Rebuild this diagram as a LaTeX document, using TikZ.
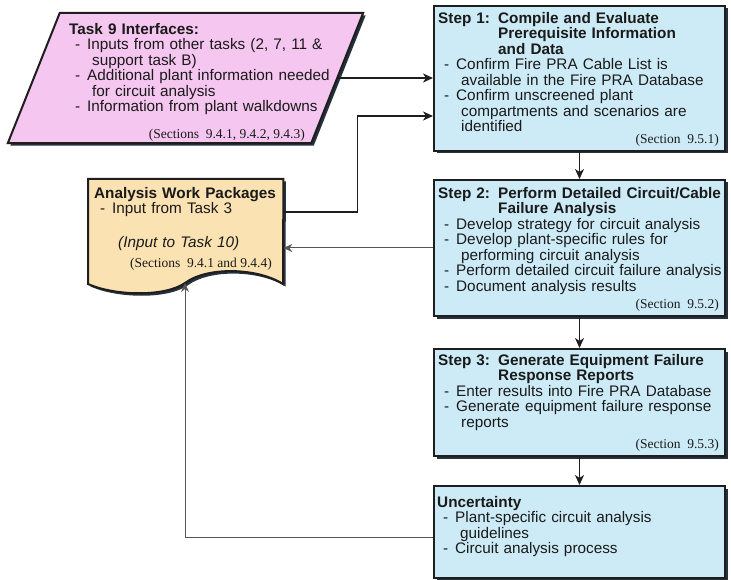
\documentclass[tikz,border=0pt]{standalone}
\usepackage{fontspec}
\setmainfont{Liberation Sans}
\newfontfamily\secfont{Liberation Serif}
\usetikzlibrary{shadows,arrows.meta}
\definecolor{taskpink}{HTML}{F5C6EF}
\definecolor{docbuff}{HTML}{FBE2B2}
\definecolor{stepblue}{HTML}{CDEBF6}
\definecolor{edgedark}{HTML}{1E1E1E}
\definecolor{shadowdark}{HTML}{25323E}
\definecolor{linegray}{HTML}{555555}
\definecolor{inkdark}{HTML}{1A1A1A}
\setlength{\parindent}{0pt}
\hyphenpenalty=10000
\newcommand\nl{\hfil\break}
\newcommand\bul[1]{\par\hangindent=23pt\hangafter=1\hspace*{6pt}\makebox[12pt][l]{-}#1}
\newcommand\stephd[2]{\hangindent=60pt\hangafter=1\makebox[60pt][l]{\textbf{#1}}\textbf{#2}}

\begin{document}
\begin{tikzpicture}[x=1pt,y=-1pt,
  boxshape/.style={draw=edgedark,line width=2pt,
    drop shadow={shadow xshift=2.5pt,shadow yshift=-2.5pt,fill=shadowdark,opacity=1}},
  stepbox/.style={boxshape,fill=stepblue,rectangle,inner sep=0pt,
    minimum width=291pt,anchor=north west},
  txt/.style={anchor=north west,inner sep=0pt,text=inkdark,
    font=\fontsize{15.3}{15.5}\selectfont},
  secref/.style={anchor=south east,inner sep=0pt,text=inkdark,
    font=\secfont\fontsize{13.5}{15}\selectfont},
  conn/.style={draw=edgedark,line width=1.8pt,
    -{Stealth[length=10pt,width=9pt,inset=3pt]}},
  backconn/.style={draw=linegray,line width=1pt,
    -{Stealth[length=9pt,width=8pt,inset=3pt]}}]
\useasboundingbox (0,0) rectangle (731,580);

\node[inner sep=0pt,minimum width=355pt,minimum height=130pt] (task) at (185.5,78) {};
\path[boxshape,fill=taskpink] ([xshift=52pt]task.north west) -- (task.north east)
  -- ([xshift=-52pt]task.south east) -- (task.south west) -- cycle;
\node[txt,text width=285pt] (tasktxt) at (69,23) {\textbf{Task 9 Interfaces:}
  \bul{Inputs from other tasks (2, 7, 11 \&\nl support task B)}
  \bul{Additional plant information needed\nl for circuit analysis}
  \bul{Information from plant walkdowns}\par};
\node[secref] (tasksec) at (305,142) {(Sections\ \ 9.4.1, 9.4.2, 9.4.3)};

\node[inner sep=0pt,minimum width=195pt,minimum height=105pt,anchor=north west] (awp) at (88,179) {};
\path[boxshape,fill=docbuff] (awp.north west) -- (awp.north east) -- (283,284)
  .. controls (258,268) and (208,266) .. (185,283) coordinate (awpdip)
  .. controls (165,297) and (115,296) .. (88,284) -- cycle;
\node[txt,text width=190pt] (awptxt) at (94,187) {\textbf{Analysis Work Packages}
  \bul{Input from Task 3}\par\vspace{18pt}
  \hspace*{24pt}\textit{(Input to Task 10)}\par};
\node[secref] (awpsec) at (272,271) {(Sections\ \ 9.4.1 and 9.4.4)};

\node[stepbox,minimum height=145pt] (s1) at (433,5) {};
\node[txt,text width=290pt] (s1txt) at (438,12) {\stephd{Step 1:}{Compile and Evaluate\nl Prerequisite Information\nl and Data}
  \bul{Confirm Fire PRA Cable List is\nl available in the Fire PRA Database}
  \bul{Confirm unscreened plant\nl compartments and scenarios are\nl identified}\par};
\node[secref] (s1sec) at ([shift={(-7,-5)}]s1.south east) {(Section\ \ 9.5.1)};

\node[stepbox,minimum height=136pt] (s2) at (433,179) {};
\node[txt,text width=290pt] (s2txt) at (438,187) {\stephd{Step 2:}{Perform Detailed Circuit/Cable\nl Failure Analysis}
  \bul{Develop strategy for circuit analysis}
  \bul{Develop plant-specific rules for\nl performing circuit analysis}
  \bul{Perform detailed circuit failure analysis}
  \bul{Document analysis results}\par};
\node[secref] (s2sec) at ([shift={(-7,-5)}]s2.south east) {(Section\ \ 9.5.2)};

\node[stepbox,minimum height=107pt] (s3) at (433,348) {};
\node[txt,text width=290pt] (s3txt) at (438,354) {\stephd{Step 3:}{Generate Equipment Failure\nl Response Reports}
  \bul{Enter results into Fire PRA Database}
  \bul{Generate equipment failure response\nl reports}\par};
\node[secref] (s3sec) at ([shift={(-7,-5)}]s3.south east) {(Section\ \ 9.5.3)};

\node[stepbox,minimum height=92pt] (unc) at (433,485) {};
\node[txt,text width=290pt] (unctxt) at (437,496) {\textbf{Uncertainty}
  \bul{Plant-specific circuit analysis\nl guidelines}
  \bul{Circuit analysis process}\par};

\draw[conn] ([xshift=-26pt]task.east) -- (task.east -| s1.west);
\draw[conn] ([yshift=19.5pt]awp.east) -| ++(74,0) |- ([yshift=-37.5pt]s1.west);
\draw[conn] (s1.south) -- (s2.north);
\draw[conn] (s2.south) -- (s3.north);
\draw[conn] (s3.south) -- (unc.north);
\draw[backconn] (s2.west) -- (s2.west -| awp.east);
\draw[backconn] ([yshift=-5pt]unc.west) -| (awpdip);
\end{tikzpicture}
\end{document}
